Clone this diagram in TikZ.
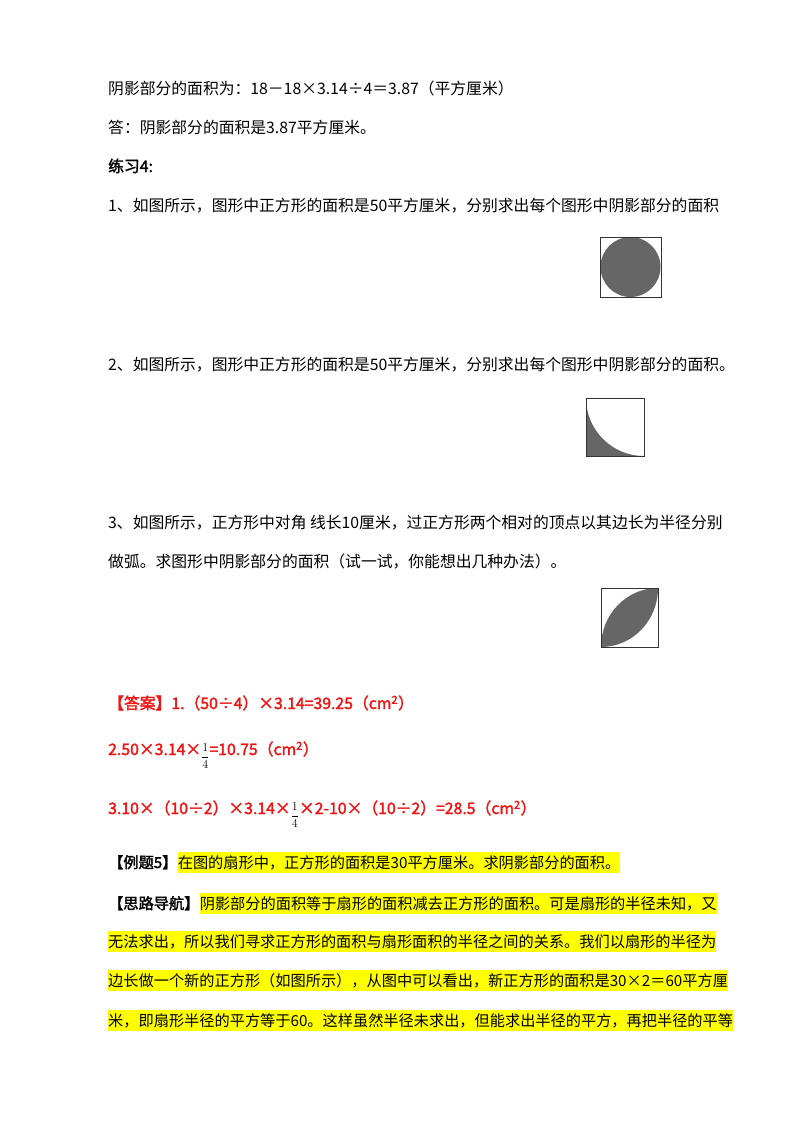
\documentclass[tikz,border=0pt]{standalone}
\usepackage{fontspec}
\newfontfamily\cjk{Noto Sans CJK SC}[AutoFakeBold=2]
\setmainfont{Liberation Serif}
\definecolor{ansred}{RGB}{240,20,20}
\definecolor{hl}{RGB}{255,255,0}
\tikzset{
  txt/.style={anchor=base west, inner sep=0pt, font=\cjk\fontsize{15.8}{16}\selectfont},
  ans/.style={txt, text=ansred, font=\cjk\bfseries\fontsize{15.8}{16}\selectfont},
  hltxt/.style={txt, fill=hl, inner ysep=3pt, font=\cjk\fontsize{15.2}{16}\selectfont},
  bhd/.style={txt, font=\cjk\bfseries\fontsize{15.2}{16}\selectfont},
  hatch/.style={fill=black!60},
  box/.style={draw=black!80, line width=0.8pt}
}
\newcommand{\qfrac}{\textcolor{black}{\raisebox{-0.32\height}{\fontsize{12}{12}\selectfont$\displaystyle\frac{1}{4}$}}}
\begin{document}
\begin{tikzpicture}[x=1pt,y=-1pt]
\useasboundingbox (0,0) rectangle (800,1132);
\fill[white] (0,0) rectangle (800,1132);
\node[txt] (l1) at (108,94) {阴影部分的面积为：18－18×3.14÷4＝3.87（平方厘米）};
\node[txt] (l2) at (108,133) {答：阴影部分的面积是3.87平方厘米。};
\node[txt,font=\cjk\bfseries\fontsize{15.8}{16}\selectfont] (l3) at (108,172) {练习4:};
\node[txt] (q1) at (108,211) {1、如图所示，图形中正方形的面积是50平方厘米，分别求出每个图形中阴影部分的面积};
\node[txt] (q2) at (108,370) {2、如图所示，图形中正方形的面积是50平方厘米，分别求出每个图形中阴影部分的面积。};
\node[txt] (q3) at (108,528) {3、如图所示，正方形中对角 线长10厘米，过正方形两个相对的顶点以其边长为半径分别};
\node[txt] (q3b) at (108,567) {做弧。求图形中阴影部分的面积（试一试，你能想出几种办法）。};
\node[ans] (a1) at (108,709) {【答案】1.（50÷4）×3.14=39.25（cm\textsuperscript{2}）};
\node[ans] (a2) at (108,755) {2.50×3.14×\qfrac=10.75（cm\textsuperscript{2}）};
\node[ans] (a3) at (108,814) {3.10×（10÷2）×3.14×\qfrac×2-10×（10÷2）=28.5（cm\textsuperscript{2}）};
\node[bhd] (e5) at (108,868) {【例题5】};
\node[hltxt] (e5t) at (e5.base east) {在图的扇形中，正方形的面积是30平方厘米。求阴影部分的面积。};
\node[bhd] (s0) at (108,909) {【思路导航】};
\node[hltxt] (s1) at (s0.base east) {阴影部分的面积等于扇形的面积减去正方形的面积。可是扇形的半径未知，又};
\node[hltxt] (s2) at (108,947) {无法求出，所以我们寻求正方形的面积与扇形面积的半径之间的关系。我们以扇形的半径为};
\node[hltxt] (s3) at (108,986) {边长做一个新的正方形（如图所示），从图中可以看出，新正方形的面积是30×2＝60平方厘};
\node[hltxt] (s4) at (108,1026) {米，即扇形半径的平方等于60。这样虽然半径未求出，但能求出半径的平方，再把半径的平等};
% figure 1
\fill[hatch] (630.5,267) circle (30);
\draw[box] (600,237) rectangle (661,297);
% figure 2
\fill[hatch] (586,398) -- (586,456) -- (644,456) arc (90:180:58) -- cycle;
\draw[box] (586,398) rectangle (644,456);
% figure 3
\fill[hatch] (601,647) arc (90:0:57 and 59) arc (270:180:57 and 59) -- cycle;
\draw[box] (601,588) rectangle (658,647);
\end{tikzpicture}
\end{document}
